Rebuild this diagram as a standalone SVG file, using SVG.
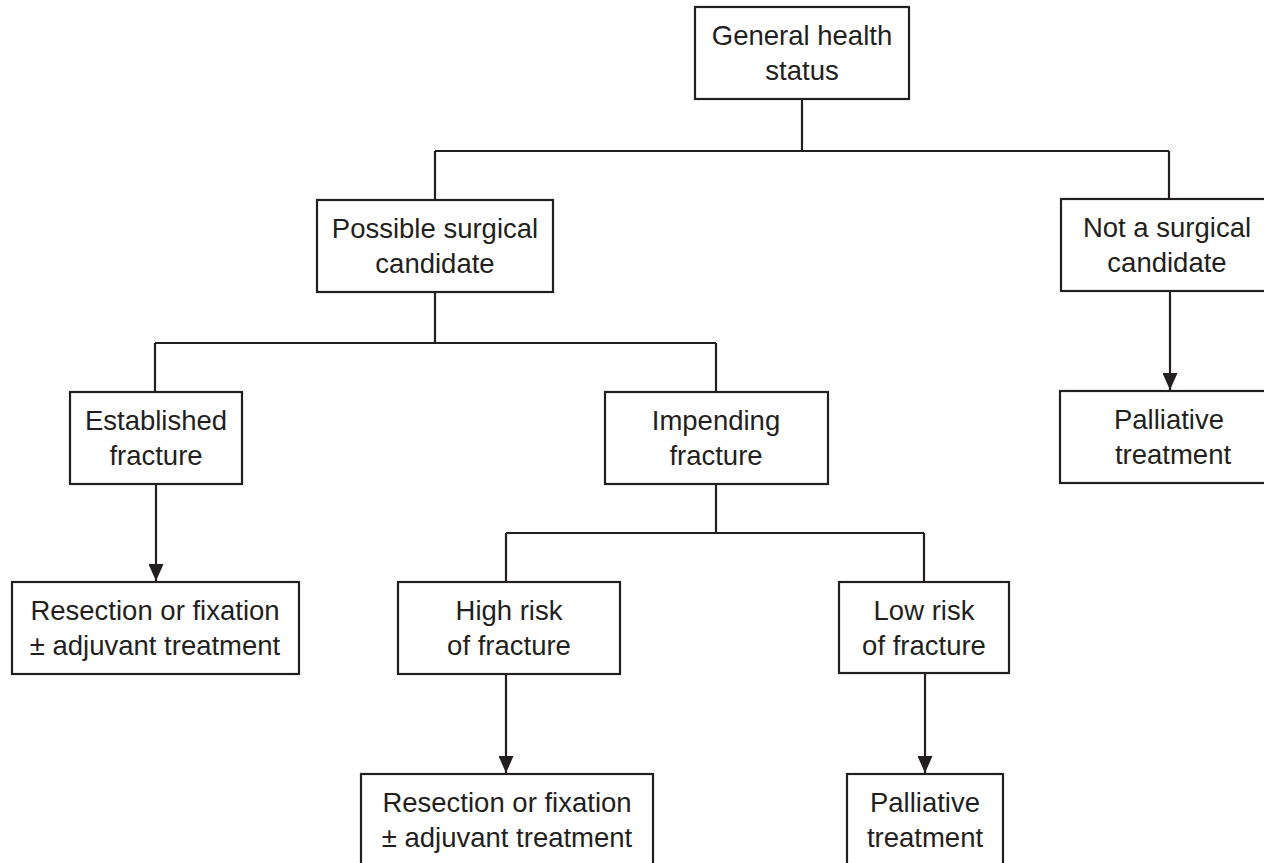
<svg xmlns="http://www.w3.org/2000/svg" width="1264" height="863" viewBox="0 0 1264 863">
<style>
.box{fill:#fff;stroke:#231f20;stroke-width:2.2}
.ln{fill:none;stroke:#231f20;stroke-width:2.2}
text{font-family:"Liberation Sans",Arial,sans-serif;font-size:27.5px;fill:#231f20;text-anchor:middle}
</style>
<defs>
<marker id="ah" markerUnits="userSpaceOnUse" markerWidth="17" markerHeight="15" refX="17" refY="7.5" orient="auto">
<path d="M0,0 L17,7.5 L0,15 z" fill="#231f20"/>
</marker>
</defs>
<rect width="1264" height="863" fill="#fff"/>
<g id="connectors">
<path class="ln" d="M802,99 V151 M435,151 H1169 M435,151 V200 M1169,151 V199"/>
<path class="ln" d="M435,292 V343 M155,343 H716 M155,343 V392 M716,343 V392"/>
<path class="ln" d="M716,484 V533 M506,533 H924 M506,533 V582 M924,533 V582"/>
<path class="ln" d="M156,484 V581" marker-end="url(#ah)"/>
<path class="ln" d="M1170,291 V390" marker-end="url(#ah)"/>
<path class="ln" d="M506,674 V773" marker-end="url(#ah)"/>
<path class="ln" d="M925,673 V773" marker-end="url(#ah)"/>
</g>
<g id="n-general"><rect class="box" x="695" y="7" width="214" height="92"/><text x="802" y="45">General health</text><text x="802" y="80">status</text></g>
<g id="n-possible"><rect class="box" x="317" y="200" width="236" height="92"/><text x="435" y="238">Possible surgical</text><text x="435" y="273">candidate</text></g>
<g id="n-not"><rect class="box" x="1061" y="199" width="214" height="92"/><text x="1167" y="237">Not a surgical</text><text x="1167" y="272">candidate</text></g>
<g id="n-established"><rect class="box" x="70" y="392" width="172" height="92"/><text x="156" y="430">Established</text><text x="156" y="465">fracture</text></g>
<g id="n-impending"><rect class="box" x="605" y="392" width="223" height="92"/><text x="716" y="430">Impending</text><text x="716" y="465">fracture</text></g>
<g id="n-palliative1"><rect class="box" x="1060" y="391" width="230" height="92"/><text x="1169" y="429">Palliative</text><text x="1173" y="464">treatment</text></g>
<g id="n-resection1"><rect class="box" x="12" y="582" width="287" height="92"/><text x="155" y="620">Resection or fixation</text><text x="155" y="655">± adjuvant treatment</text></g>
<g id="n-highrisk"><rect class="box" x="398" y="582" width="222" height="92"/><text x="509" y="620">High risk</text><text x="509" y="655">of fracture</text></g>
<g id="n-lowrisk"><rect class="box" x="839" y="582" width="170" height="91"/><text x="924" y="620">Low risk</text><text x="924" y="655">of fracture</text></g>
<g id="n-resection2"><rect class="box" x="361" y="774" width="292" height="100"/><text x="507" y="812">Resection or fixation</text><text x="507" y="847">± adjuvant treatment</text></g>
<g id="n-palliative2"><rect class="box" x="847" y="774" width="156" height="100"/><text x="925" y="812">Palliative</text><text x="925" y="847">treatment</text></g>
</svg>
